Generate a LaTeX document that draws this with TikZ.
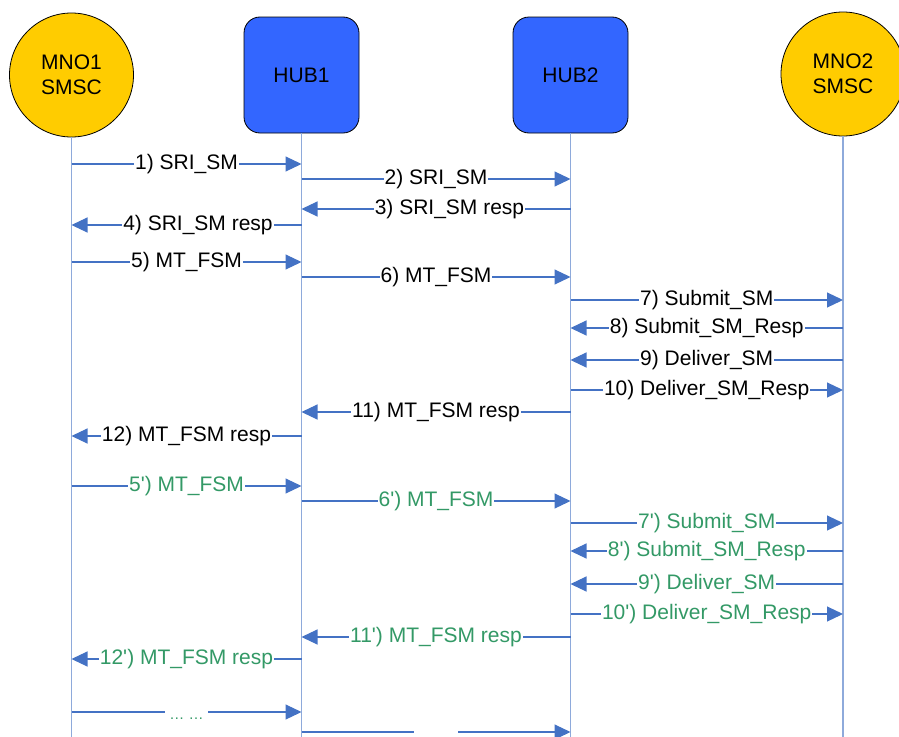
\documentclass[tikz,border=0pt]{standalone}
\usepackage{fontspec}
\setmainfont{Liberation Sans}
\usetikzlibrary{arrows.meta}
\definecolor{lifeblue}{RGB}{142,170,219}
\definecolor{msgblue}{RGB}{68,114,196}
\definecolor{smscgold}{RGB}{255,204,0}
\definecolor{hubblue}{RGB}{51,102,255}
\definecolor{repgreen}{RGB}{51,153,102}
\newcommand\pr{\textquotesingle}
\begin{document}
\begin{tikzpicture}[x=1pt,y=-1pt,
  every node/.style={font=\fontsize{21}{25}\selectfont},
  smsc/.style={circle,draw=black,line width=0.8pt,fill=smscgold,minimum size=124pt,align=center,inner sep=0pt},
  hub/.style={rectangle,rounded corners=16pt,draw=black,line width=0.8pt,fill=hubblue,minimum width=115pt,minimum height=116pt,inner sep=0pt},
  lifeline/.style={draw=lifeblue,line width=1.4pt},
  msg/.style={draw=msgblue,line width=1.1pt,-{Triangle[length=16pt,width=15pt]}},
  lbl/.style={fill=white,inner xsep=1pt,inner ysep=0pt,text=black},
  replbl/.style={lbl,text=repgreen},
  morelbl/.style={fill=white,inner xsep=4pt,inner ysep=0pt,text=repgreen,
    font=\fontsize{15}{16}\selectfont,text height=14pt,text depth=0pt},
  gaplbl/.style={fill=white,inner sep=0pt,minimum width=44pt,minimum height=6pt}]
\useasboundingbox (0,0) rectangle (899,736);

% participants
\node[smsc] (mno1) at (71.5,75) {MNO1\\SMSC};
\node[hub]  (hub1) at (301.5,75) {HUB1};
\node[hub]  (hub2) at (570.5,75) {HUB2};
\node[smsc] (mno2) at (843,74) {MNO2\\SMSC};

% lifelines
\coordinate (e1) at (71.5,745);
\coordinate (e2) at (301.5,745);
\coordinate (e3) at (570.5,745);
\coordinate (e4) at (843,745);
\draw[lifeline] (mno1.south) -- (e1);
\draw[lifeline] (hub1.south) -- (e2);
\draw[lifeline] (hub2.south) -- (e3);
\draw[lifeline] (mno2.south) -- (e4);

% first delivery attempt
\draw[msg] (mno1 |- 0,164) -- node[lbl]{1) SRI\_SM} (hub1 |- 0,164);
\draw[msg] (hub1 |- 0,179) -- node[lbl]{2) SRI\_SM} (hub2 |- 0,179);
\draw[msg] (hub2 |- 0,209) -- node[lbl,pos=0.45]{3) SRI\_SM resp} (hub1 |- 0,209);
\draw[msg] (hub1 |- 0,225) -- node[lbl,pos=0.45]{4) SRI\_SM resp} (mno1 |- 0,225);
\draw[msg] (mno1 |- 0,262) -- node[lbl]{5) MT\_FSM} (hub1 |- 0,262);
\draw[msg] (hub1 |- 0,277) -- node[lbl]{6) MT\_FSM} (hub2 |- 0,277);
\draw[msg] (hub2 |- 0,300) -- node[lbl]{7) Submit\_SM} (mno2 |- 0,300);
\draw[msg] (mno2 |- 0,328) -- node[lbl]{8) Submit\_SM\_Resp} (hub2 |- 0,328);
\draw[msg] (mno2 |- 0,360) -- node[lbl]{9) Deliver\_SM} (hub2 |- 0,360);
\draw[msg] (hub2 |- 0,390) -- node[lbl]{10) Deliver\_SM\_Resp} (mno2 |- 0,390);
\draw[msg] (hub2 |- 0,412) -- node[lbl]{11) MT\_FSM resp} (hub1 |- 0,412);
\draw[msg] (hub1 |- 0,436) -- node[lbl]{12) MT\_FSM resp} (mno1 |- 0,436);

% repeated attempt
\draw[msg] (mno1 |- 0,486) -- node[replbl]{5\pr) MT\_FSM} (hub1 |- 0,486);
\draw[msg] (hub1 |- 0,501) -- node[replbl]{6\pr) MT\_FSM} (hub2 |- 0,501);
\draw[msg] (hub2 |- 0,523) -- node[replbl]{7\pr) Submit\_SM} (mno2 |- 0,523);
\draw[msg] (mno2 |- 0,551) -- node[replbl]{8\pr) Submit\_SM\_Resp} (hub2 |- 0,551);
\draw[msg] (mno2 |- 0,584) -- node[replbl]{9\pr) Deliver\_SM} (hub2 |- 0,584);
\draw[msg] (hub2 |- 0,614) -- node[replbl]{10\pr) Deliver\_SM\_Resp} (mno2 |- 0,614);
\draw[msg] (hub2 |- 0,637) -- node[replbl]{11\pr) MT\_FSM resp} (hub1 |- 0,637);
\draw[msg] (hub1 |- 0,659) -- node[replbl]{12\pr) MT\_FSM resp} (mno1 |- 0,659);

% further attempts
\draw[msg] (mno1 |- 0,712) -- node[morelbl]{… …} (hub1 |- 0,712);
\draw[msg] (hub1 |- 0,732) -- node[gaplbl]{} (hub2 |- 0,732);
\end{tikzpicture}
\end{document}
